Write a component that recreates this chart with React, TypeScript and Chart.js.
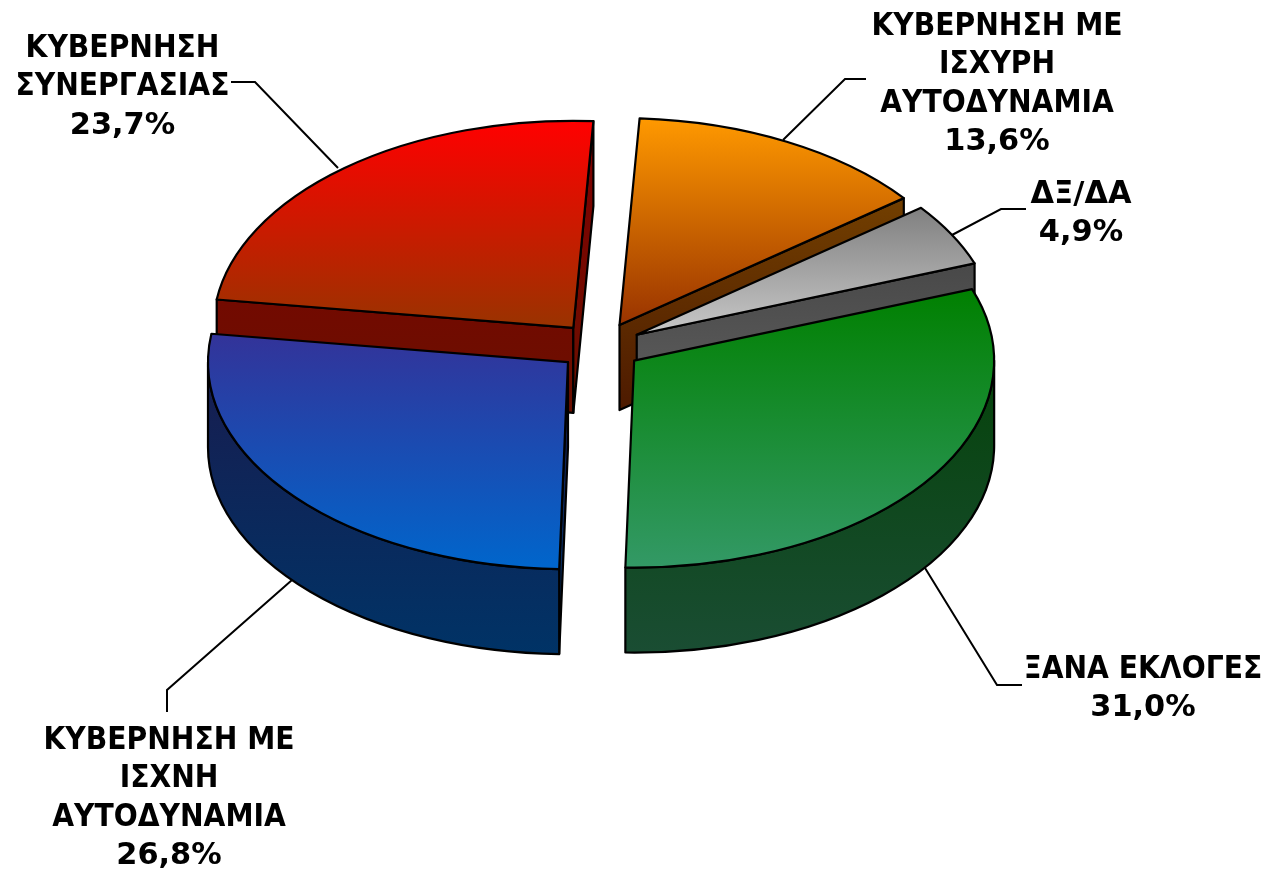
import React, { useEffect, useRef } from "react";
import { Chart, registerables } from "chart.js";

Chart.register(...registerables);

const categories = [
  "ΚΥΒΕΡΝΗΣΗ ΜΕ|ΙΣΧΥΡΗ|ΑΥΤΟΔΥΝΑΜΙΑ",
  "ΔΞ/ΔΑ",
  "ΞΑΝΑ ΕΚΛΟΓΕΣ",
  "ΚΥΒΕΡΝΗΣΗ ΜΕ|ΙΣΧΝΗ|ΑΥΤΟΔΥΝΑΜΙΑ",
  "ΚΥΒΕΡΝΗΣΗ|ΣΥΝΕΡΓΑΣΙΑΣ",
];
const values = [13.6, 4.9, 31.0, 26.8, 23.7];

const topStart = ["#FF9900", "#808080", "#008000", "#333399", "#FF0000"];
const topEnd = ["#993300", "#C8C8C8", "#339966", "#0066CC", "#993300"];
const sideStart = ["#804D00", "#404040", "#004000", "#1A1A4D", "#800000"];
const sideEnd = ["#4D1A00", "#606060", "#1A4D33", "#003366", "#6A1000"];
const paintOrder = [0, 4, 1, 2, 3];

const labelBoxes = [
  { x: 997, y: 27 },
  { x: 1081, y: 195 },
  { x: 1143, y: 670 },
  { x: 169, y: 741 },
  { x: 122.5, y: 49 },
];
const leaders = [
  [[866, 79], [845, 79], [783, 140]],
  [[1026, 209], [1001, 209], [952, 235]],
  [[1022, 685], [997, 685], [925, 568]],
  [[167, 712], [167, 690], [292, 580]],
  [[231, 82], [255, 82], [338, 168]],
];

const FLATTEN = 0.575;
const DEPTH = 85;
const EXPLODE = 42;
const CENTER_Y = 346.5;
const LINE_STEP = 38.4;
const FONT = "bold 31px 'DejaVu Sans'";
const WORD_SCALE = 0.91;
const NUMBER_SCALE = 0.98;

const pie3d = {
  id: "pie3d",
  beforeDatasetsDraw(chart: any) {
    const ctx: CanvasRenderingContext2D = chart.ctx;
    const arcs = chart.getDatasetMeta(0).data;
    ctx.save();
    ctx.lineWidth = 2.2;
    ctx.strokeStyle = "#000";
    ctx.lineJoin = "round";
    const refY = arcs[0].y;
    for (const i of paintOrder) {
      const a = arcs[i];
      const mid = (a.startAngle + a.endAngle) / 2;
      const r = a.outerRadius;
      const px = a.x + Math.cos(mid) * EXPLODE;
      const py = CENTER_Y + ((a.y - refY) + Math.sin(mid) * EXPLODE) * FLATTEN;
      const ry = r * FLATTEN;
      const pt = (t: number) => [px + Math.cos(t) * r, py + Math.sin(t) * ry];
      let minY = py;
      let maxY = py;
      for (let s = 0; s <= 40; s++) {
        const y = pt(a.startAngle + ((a.endAngle - a.startAngle) * s) / 40)[1];
        minY = Math.min(minY, y);
        maxY = Math.max(maxY, y);
      }
      const side = ctx.createLinearGradient(0, minY, 0, maxY + DEPTH);
      side.addColorStop(0, sideStart[i]);
      side.addColorStop(1, sideEnd[i]);
      const wall = (build: () => void) => {
        ctx.beginPath();
        build();
        ctx.closePath();
        ctx.fillStyle = side;
        ctx.fill();
        ctx.stroke();
      };
      const radial = (t: number) => {
        const [ex, ey] = pt(t);
        wall(() => {
          ctx.moveTo(px, py);
          ctx.lineTo(ex, ey);
          ctx.lineTo(ex, ey + DEPTH);
          ctx.lineTo(px, py + DEPTH);
        });
      };
      // far faces first, only those turned toward the viewer
      if (Math.cos(a.startAngle) < 0) radial(a.startAngle);
      if (Math.cos(a.endAngle) > 0) radial(a.endAngle);
      for (const k of [0, 2 * Math.PI]) {
        const from = Math.max(a.startAngle, k);
        const to = Math.min(a.endAngle, k + Math.PI);
        if (to > from) {
          wall(() => {
            ctx.ellipse(px, py, r, ry, 0, from, to);
            ctx.ellipse(px, py + DEPTH, r, ry, 0, to, from, true);
          });
        }
      }
      const top = ctx.createLinearGradient(0, minY, 0, maxY);
      top.addColorStop(0, topStart[i]);
      top.addColorStop(1, topEnd[i]);
      ctx.beginPath();
      ctx.moveTo(px, py);
      ctx.ellipse(px, py, r, ry, 0, a.startAngle, a.endAngle);
      ctx.closePath();
      ctx.fillStyle = top;
      ctx.fill();
      ctx.stroke();
    }
    ctx.restore();
    return false;
  },
  afterDraw(chart: any) {
    const ctx: CanvasRenderingContext2D = chart.ctx;
    ctx.save();
    ctx.strokeStyle = "#000";
    ctx.lineWidth = 2;
    for (const path of leaders) {
      ctx.beginPath();
      path.forEach(([x, y], n) => (n ? ctx.lineTo(x, y) : ctx.moveTo(x, y)));
      ctx.stroke();
    }
    ctx.fillStyle = "#000";
    ctx.font = FONT;
    ctx.textAlign = "center";
    ctx.textBaseline = "middle";
    categories.forEach((name, i) => {
      const lines = [...name.split("|"), values[i].toFixed(1).replace(".", ",") + "%"];
      lines.forEach((line, n) => {
        const w = ctx.measureText(line).width;
        const tight = /\d|\//.test(line) ? NUMBER_SCALE : WORD_SCALE;
        ctx.fillText(line, labelBoxes[i].x, labelBoxes[i].y + n * LINE_STEP, w * tight);
      });
    });
    ctx.restore();
  },
};

export default function App() {
  const ref = useRef<HTMLCanvasElement>(null);
  useEffect(() => {
    const chart = new Chart(ref.current!, {
      type: "pie",
      data: {
        labels: categories.map((c) => c.replace(/\|/g, " ")),
        datasets: [{ data: values, backgroundColor: topStart, borderWidth: 0 }],
      },
      options: {
        animation: false,
        responsive: false,
        rotation: 3.2,
        layout: { padding: { left: 240, right: 306, top: 75, bottom: 76 } },
        plugins: { legend: { display: false }, tooltip: { enabled: false } },
      },
      plugins: [pie3d],
    } as any);
    return () => chart.destroy();
  }, []);
  return (
    <canvas
      ref={ref}
      width={1266}
      height={871}
      style={{ position: "absolute", left: 0, top: 0, display: "block" }}
    />
  );
}
